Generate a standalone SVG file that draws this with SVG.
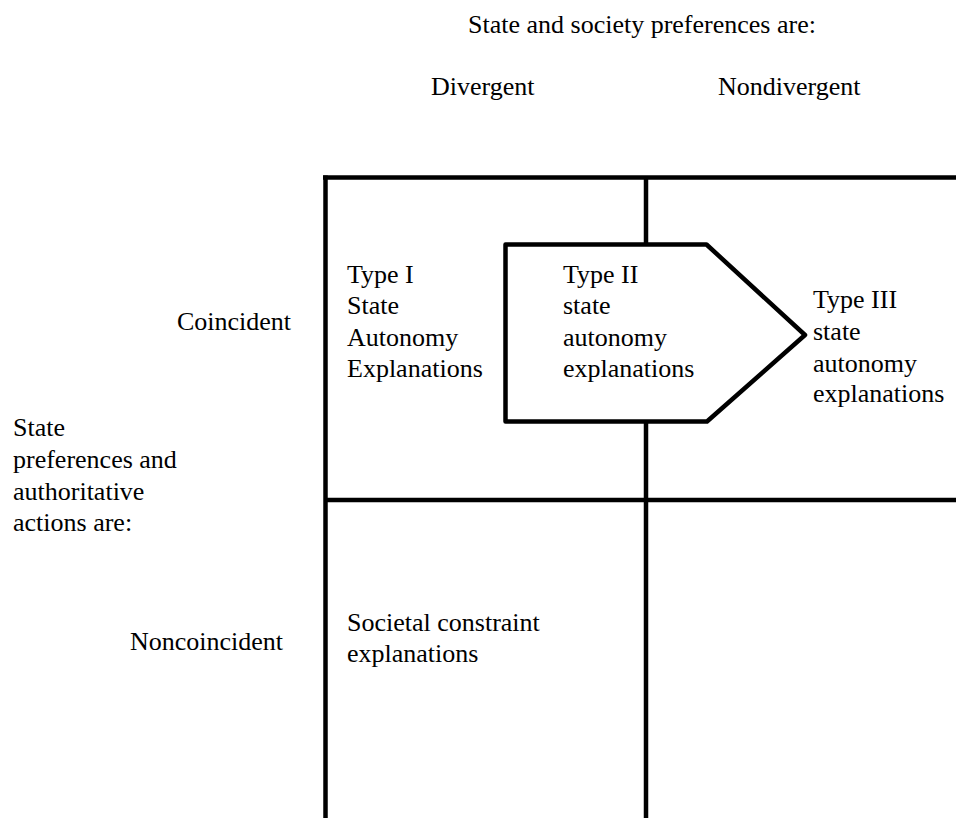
<svg xmlns="http://www.w3.org/2000/svg" width="956" height="818" viewBox="0 0 956 818">
<style>
  text { font-family: "Liberation Serif", "Times New Roman", serif; font-size: 26px; fill: #000; }
  .ln { stroke: #000; stroke-width: 4.5; fill: none; stroke-linecap: butt; }
  .shape { stroke: #000; stroke-width: 4.5; fill: none; stroke-linejoin: round; }
</style>
<rect x="0" y="0" width="956" height="818" fill="#fff"/>
<g id="connectors">
  <line class="ln" x1="323" y1="177.5" x2="956" y2="177.5"/>
  <line class="ln" x1="325.5" y1="175.5" x2="325.5" y2="818"/>
  <line class="ln" x1="646" y1="177.5" x2="646" y2="244.5"/>
  <line class="ln" x1="646" y1="421.5" x2="646" y2="818"/>
  <line class="ln" x1="325.5" y1="500" x2="956" y2="500"/>
</g>
<g id="header">
  <text x="468" y="33">State and society preferences are:</text>
  <text x="431" y="95">Divergent</text>
  <text x="718" y="95">Nondivergent</text>
</g>
<g id="row-labels">
  <text x="177" y="330">Coincident</text>
  <text x="130" y="650">Noncoincident</text>
  <text x="13" y="436">State</text>
  <text x="13" y="468">preferences and</text>
  <text x="13" y="500">authoritative</text>
  <text x="13" y="531">actions are:</text>
</g>
<g id="type1">
  <text x="347" y="283">Type I</text>
  <text x="347" y="314">State</text>
  <text x="347" y="345.5">Autonomy</text>
  <text x="347" y="377">Explanations</text>
</g>
<g id="type2">
  <polygon class="shape" points="505.5,244.5 706.5,244.5 805,335 707,421.5 505.5,421.5"/>
  <text x="563" y="283">Type II</text>
  <text x="563" y="314">state</text>
  <text x="563" y="345.5">autonomy</text>
  <text x="563" y="377">explanations</text>
</g>
<g id="type3">
  <text x="813" y="308">Type III</text>
  <text x="813" y="340">state</text>
  <text x="813" y="371.5">autonomy</text>
  <text x="813" y="402">explanations</text>
</g>
<g id="societal">
  <text x="347" y="631">Societal constraint</text>
  <text x="347" y="662">explanations</text>
</g>
</svg>
